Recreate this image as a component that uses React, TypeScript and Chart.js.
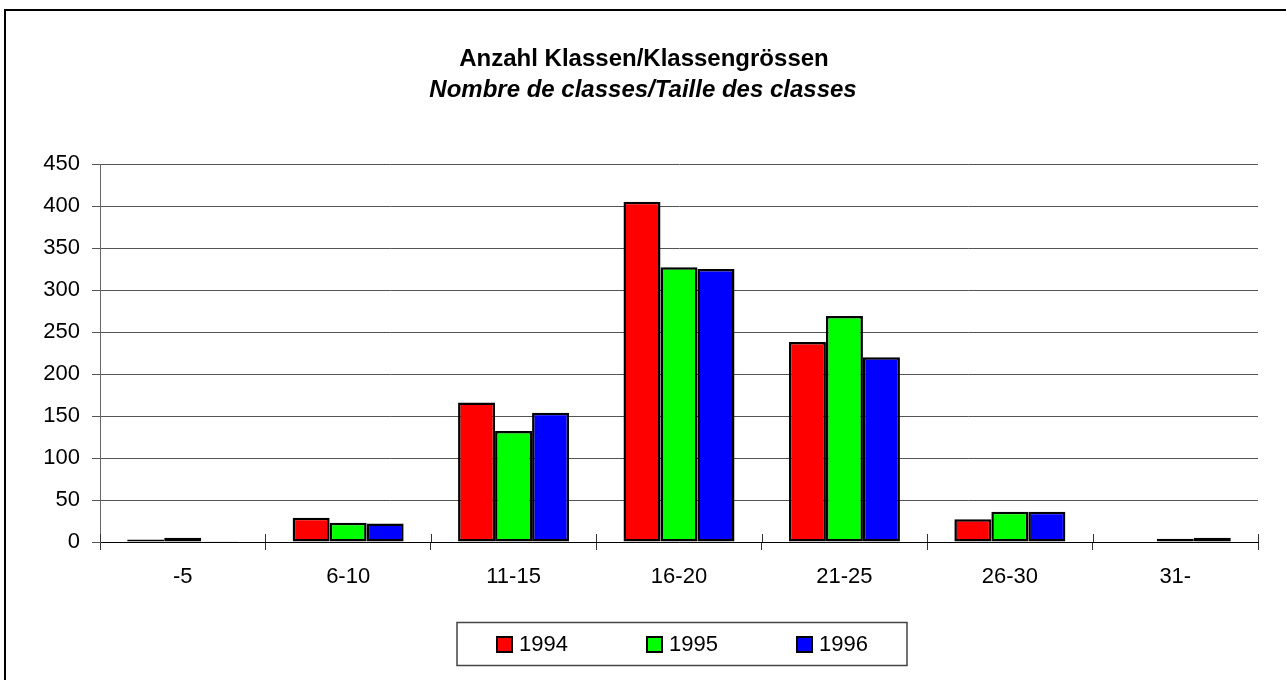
import React, { useEffect, useRef } from 'react';
import { Chart, registerables } from 'chart.js';

Chart.register(...registerables);

const categories = ['-5', '6-10', '11-15', '16-20', '21-25', '26-30', '31-'];
const seriesLabels = ['1994', '1995', '1996'];
const values1994 = [3, 29, 166, 405, 238, 27, 0];
const values1995 = [5, 23, 132, 327, 269, 36, 4];
const values1996 = [1, 22, 154, 325, 220, 36, 5];
const seriesColors = ['#ff0000', '#00ff00', '#0000ff'];
const yMax = 450;
const yStep = 50;
const titleText = 'Anzahl Klassen/Klassengrössen';
const subtitleText = 'Nombre de classes/Taille des classes';

const FONT = '"Liberation Sans", Arial, Helvetica, sans-serif';

const decorPlugin = {
  id: 'decor',
  beforeDraw(chart: any) {
    const ctx = chart.ctx;
    ctx.save();
    ctx.fillStyle = '#ffffff';
    ctx.fillRect(0, 0, chart.width, chart.height);
    ctx.restore();
  },
  afterDraw(chart: any) {
    const ctx = chart.ctx;
    ctx.save();
    // outer frame (left and top edges)
    ctx.fillStyle = '#000';
    ctx.fillRect(4, 9, 2, chart.height - 9);
    ctx.fillRect(4, 9, chart.width - 4, 2);

    // x tick marks crossing the axis (upper half)
    const xs = chart.scales.x;
    const area = chart.chartArea;
    const n = chart.data.labels.length;
    const step = (area.right - area.left) / n;
    ctx.strokeStyle = '#333';
    ctx.lineWidth = 1;
    for (let i = 0; i <= n; i++) {
      const px = Math.round(xs.left + i * step) + 0.5;
      ctx.beginPath();
      ctx.moveTo(px, area.bottom - 8);
      ctx.lineTo(px, area.bottom);
      ctx.stroke();
    }

    // titles
    ctx.fillStyle = '#000';
    ctx.textAlign = 'center';
    ctx.textBaseline = 'alphabetic';
    ctx.font = `bold 24px ${FONT}`;
    ctx.fillText(titleText, 644, 66);
    ctx.font = `italic bold 24px ${FONT}`;
    ctx.fillText(subtitleText, 643, 97);

    // legend box
    ctx.strokeStyle = '#444';
    ctx.lineWidth = 1.5;
    ctx.strokeRect(457, 622.5, 450, 43);
    const itemX = [496, 646, 796];
    ctx.font = `22px ${FONT}`;
    ctx.textAlign = 'left';
    ctx.textBaseline = 'middle';
    chart.data.datasets.forEach((ds: any, i: number) => {
      const x = itemX[i];
      ctx.fillStyle = '#000';
      ctx.fillRect(x, 636, 17, 17);
      ctx.fillStyle = ds.backgroundColor;
      ctx.fillRect(x + 2, 638, 13, 13);
      ctx.fillStyle = '#000';
      ctx.fillText(ds.label, x + 23, 645);
    });
    ctx.restore();
  },
};

export default function App() {
  const ref = useRef<HTMLCanvasElement | null>(null);

  useEffect(() => {
    if (!ref.current) return;
    const seriesValues = [values1994, values1995, values1996];
    const chart = new Chart(ref.current, {
      type: 'bar',
      data: {
        labels: categories,
        datasets: seriesLabels.map((label, i) => ({
          label,
          data: seriesValues[i],
          backgroundColor: seriesColors[i],
          borderColor: '#000',
          borderWidth: 2.5,
          borderSkipped: false,
          categoryPercentage: 0.671,
          barPercentage: 1.0,
        })),
      },
      options: {
        animation: false,
        responsive: false,
        devicePixelRatio: 1,
        layout: { padding: { left: 0, top: 164, right: 28, bottom: 88 } },
        plugins: {
          legend: { display: false },
          title: { display: false },
          tooltip: { enabled: false },
        },
        scales: {
          x: {
            afterFit: (scale: any) => {
              scale.height = 50;
            },
            grid: {
              drawOnChartArea: false,
              drawTicks: true,
              tickLength: 8,
              color: '#333',
              offset: true,
            },
            border: { display: true, color: '#000', width: 1 },
            ticks: {
              color: '#000',
              padding: 14,
              maxRotation: 0,
              font: { family: FONT, size: 22 },
            },
          },
          y: {
            min: 0,
            max: yMax,
            afterFit: (scale: any) => {
              scale.width = 100;
            },
            ticks: {
              stepSize: yStep,
              color: '#000',
              padding: 12,
              font: { family: FONT, size: 22 },
            },
            grid: {
              color: '#555',
              lineWidth: 1,
              drawTicks: true,
              tickLength: 8,
            },
            border: { display: true, color: '#666', width: 1 },
          },
        },
      },
      plugins: [decorPlugin],
    });
    return () => chart.destroy();
  }, []);

  return (
    <canvas
      ref={ref}
      width={1286}
      height={680}
      style={{ position: 'fixed', left: 0, top: 0, width: 1286, height: 680 }}
    />
  );
}
